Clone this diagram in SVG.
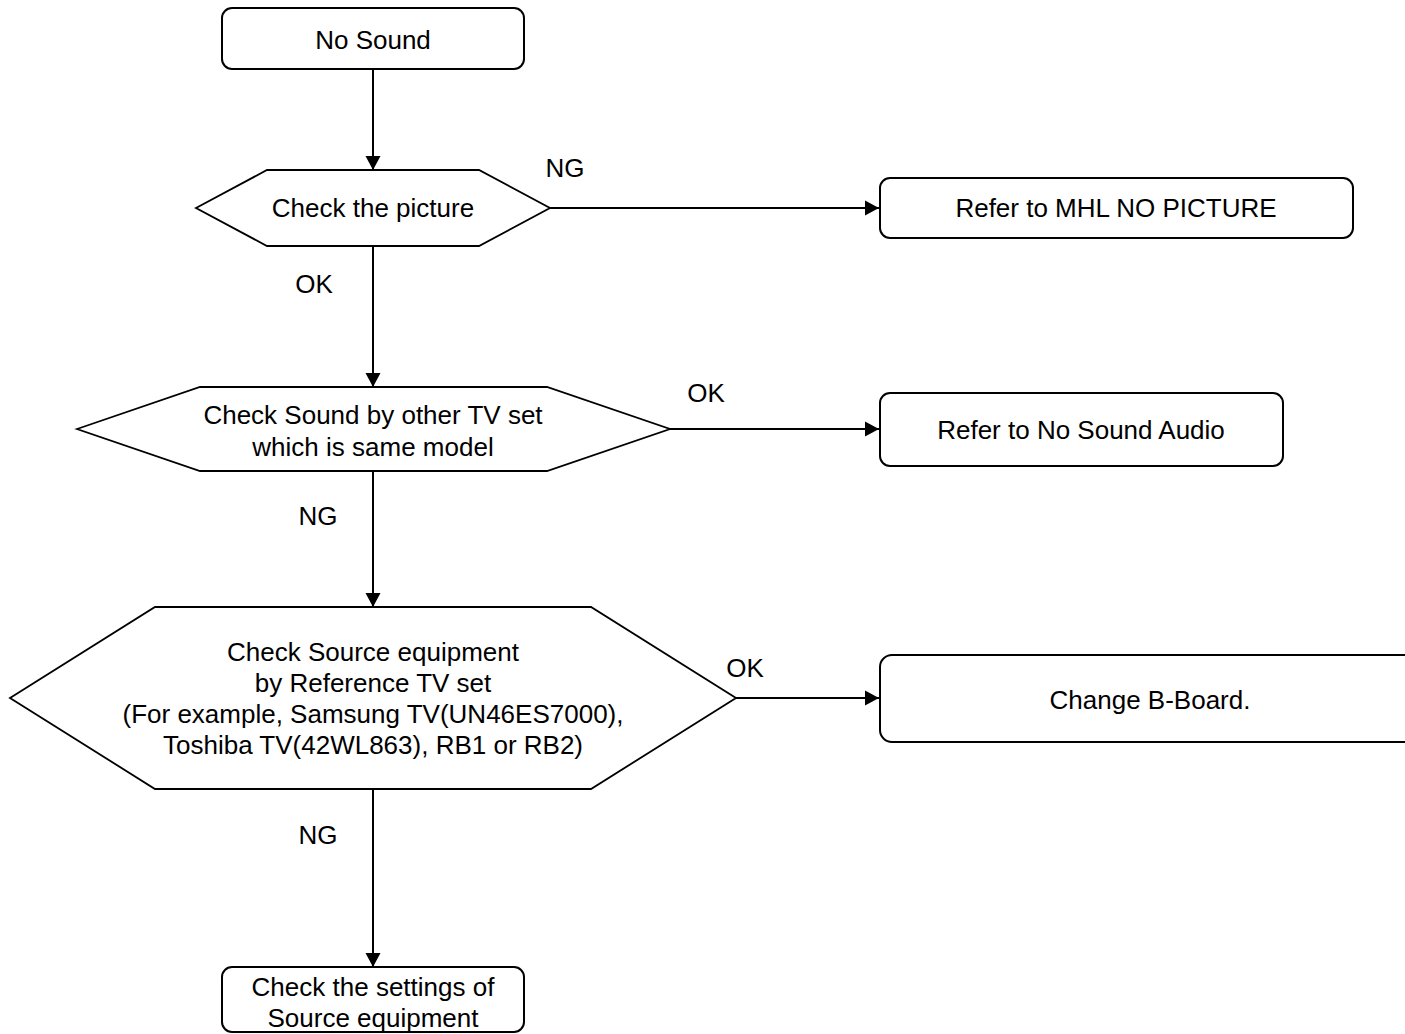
<svg xmlns="http://www.w3.org/2000/svg" width="1405" height="1034" viewBox="0 0 1405 1034">
<style>
.box{fill:#fff;stroke:#000;stroke-width:2}
.dec{fill:#fff;stroke:#000;stroke-width:1.8}
.ln{fill:none;stroke:#000;stroke-width:2}
text{font-family:"Liberation Sans",Arial,sans-serif;font-size:26px;fill:#000;text-anchor:middle}
</style>
<defs>
<marker id="ah" markerUnits="userSpaceOnUse" markerWidth="16" markerHeight="16" viewBox="0 0 16 16" refX="15" refY="8" orient="auto">
<path d="M1,0.5 L15,8 L1,15.5 Z" fill="#000"/>
</marker>
</defs>
<rect width="1405" height="1034" fill="#fff"/>
<g id="connectors">
<line class="ln" x1="373" y1="69" x2="373" y2="170" marker-end="url(#ah)"/>
<line class="ln" x1="550" y1="208" x2="879" y2="208" marker-end="url(#ah)"/>
<line class="ln" x1="373" y1="246" x2="373" y2="387" marker-end="url(#ah)"/>
<line class="ln" x1="670" y1="429" x2="879" y2="429" marker-end="url(#ah)"/>
<line class="ln" x1="373" y1="471" x2="373" y2="607" marker-end="url(#ah)"/>
<line class="ln" x1="736" y1="698" x2="879" y2="698" marker-end="url(#ah)"/>
<line class="ln" x1="373" y1="789" x2="373" y2="967" marker-end="url(#ah)"/>
<text x="565" y="177">NG</text>
<text x="314" y="293">OK</text>
<text x="706" y="402">OK</text>
<text x="318" y="525">NG</text>
<text x="745" y="677">OK</text>
<text x="318" y="844">NG</text>
</g>
<g id="start">
<rect class="box" x="222" y="8" width="302" height="61" rx="10"/>
<text x="373" y="49">No Sound</text>
</g>
<g id="check-picture">
<polygon class="dec" points="196,208 267,170 479,170 550,208 479,246 267,246"/>
<text x="373" y="217">Check the picture</text>
</g>
<g id="mhl-no-picture">
<rect class="box" x="880" y="178" width="473" height="60" rx="10"/>
<text x="1116" y="217">Refer to MHL NO PICTURE</text>
</g>
<g id="check-sound">
<polygon class="dec" points="77,429 200,387 547,387 670,429 547,471 200,471"/>
<text x="373" y="424">Check Sound by other TV set</text>
<text x="373" y="456">which is same model</text>
</g>
<g id="no-sound-audio">
<rect class="box" x="880" y="393" width="403" height="73" rx="10"/>
<text x="1081" y="439">Refer to No Sound Audio</text>
</g>
<g id="check-source">
<polygon class="dec" points="10,698 155,607 591,607 736,698 591,789 155,789"/>
<text x="373" y="661">Check Source equipment</text>
<text x="373" y="692">by Reference TV set</text>
<text x="373" y="723">(For example, Samsung TV(UN46ES7000),</text>
<text x="373" y="754">Toshiba TV(42WL863), RB1 or RB2)</text>
</g>
<g id="change-board">
<rect class="box" x="880" y="655" width="545" height="87" rx="12"/>
<text x="1150" y="709">Change B-Board.</text>
</g>
<g id="check-settings">
<rect class="box" x="222" y="967" width="302" height="65" rx="10"/>
<text x="373" y="996">Check the settings of</text>
<text x="373" y="1027">Source equipment</text>
</g>
</svg>
